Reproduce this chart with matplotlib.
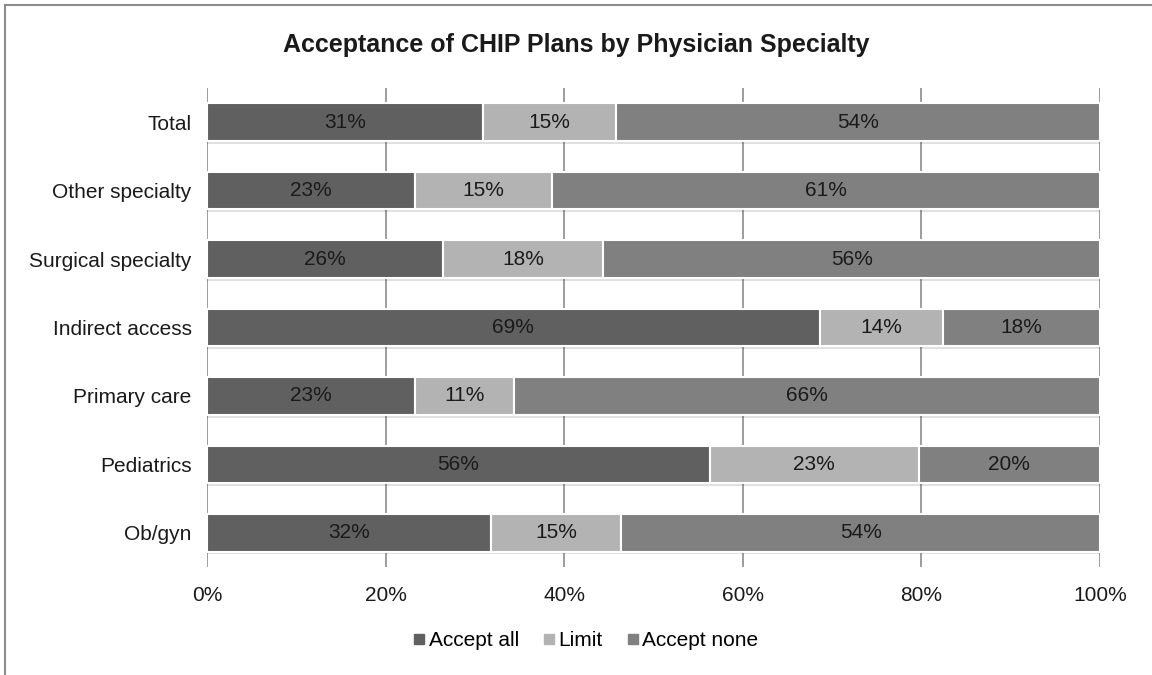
import numpy as np
import matplotlib.pyplot as plt
from matplotlib.lines import Line2D
import matplotlib.patheffects as pe

plt.rcParams['font.family'] = ['Liberation Sans', 'DejaVu Sans']

# ─── DATA ──────────────────────────────────────────────────────────────────
categories = ["Total", "Other specialty", "Surgical specialty", "Indirect access",
              "Primary care", "Pediatrics", "Ob/gyn"]
accept_all = [30.9, 23.3, 26.4, 68.6, 23.3, 56.3, 31.8]
limit = [14.9, 15.3, 18.0, 13.8, 11.1, 23.4, 14.6]
accept_none = [54.2, 61.4, 55.6, 17.6, 65.6, 20.3, 53.6]
series_names = ["Accept all", "Limit", "Accept none"]
x_ticks = [0, 20, 40, 60, 80, 100]

colors = ["#606060", "#b3b3b3", "#808080"]
FS = 15

# ─── FIGURE ────────────────────────────────────────────────────────────────
fig = plt.figure(figsize=(11.52, 6.75), dpi=100)
ax = fig.add_axes([207 / 1152, 1 - 567 / 675, 893 / 1152, 479 / 675])

data = np.array([accept_all, limit, accept_none])
data = data / data.sum(axis=0) * 100
y = np.arange(len(categories))
left = np.zeros(len(categories))

shadow = [pe.SimplePatchShadow(offset=(0, -2), shadow_rgbFace='#000000', alpha=0.12), pe.Normal()]
for i, name in enumerate(series_names):
    bars = ax.barh(y, data[i], left=left, height=0.55, color=colors[i],
                   edgecolor='white', linewidth=1.5, label=name, zorder=3)
    for b in bars:
        b.set_path_effects(shadow)
    for yy, l, w in zip(y, left, data[i]):
        ax.text(l + w / 2, yy, f"{w:.0f}%", ha='center', va='center',
                fontsize=FS, color='#1a1a1a', zorder=4)
    left += data[i]

ax.set_xlim(0, 100)
ax.set_ylim(len(categories) - 0.5, -0.5)
ax.set_xticks(x_ticks)
ax.set_xticklabels([f"{t}%" for t in x_ticks], fontsize=FS, color='#1a1a1a')
ax.set_yticks(y)
ax.set_yticklabels(categories, fontsize=FS, color='#1a1a1a')
ax.tick_params(axis='y', length=0, pad=11)
ax.tick_params(axis='x', length=0, pad=14)
ax.grid(axis='x', color='#8c8c8c', linewidth=1.2, zorder=0)
for s in ax.spines.values():
    s.set_visible(False)

fig.text(0.5, 1 - 45 / 675, "Acceptance of CHIP Plans by Physician Specialty",
         ha='center', va='center', fontsize=18, fontweight='bold', color='#1a1a1a')

handles = [Line2D([], [], marker='s', linestyle='none', markersize=7,
                  markerfacecolor=c, markeredgecolor=c) for c in colors]
fig.legend(handles, series_names, loc='center', bbox_to_anchor=(0.508, 1 - 641 / 675),
           ncol=3, frameon=False, fontsize=FS, handletextpad=0.1, columnspacing=1.1,
           handlelength=0.7)

# outer frame (top and left edges visible)
fig.add_artist(Line2D([5 / 1152, 1], [1 - 5 / 675, 1 - 5 / 675], color='#8c8c8c',
                      linewidth=1.5, transform=fig.transFigure))
fig.add_artist(Line2D([5 / 1152, 5 / 1152], [0, 1 - 5 / 675], color='#8c8c8c',
                      linewidth=1.5, transform=fig.transFigure))

fig.savefig("out.png", dpi=100, facecolor='white')
